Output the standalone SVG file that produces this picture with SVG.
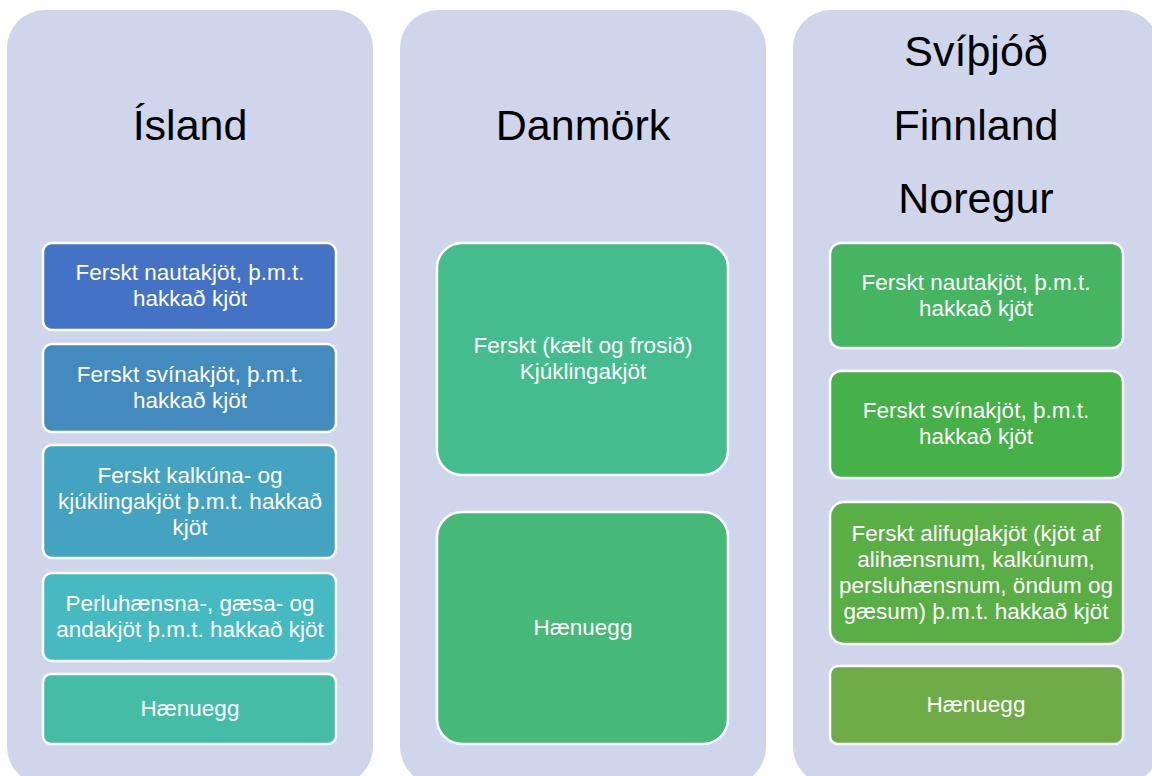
<svg xmlns="http://www.w3.org/2000/svg" width="1152" height="776" viewBox="0 0 1152 776">
<style>
.col{fill:#CFD5EA}
.box{stroke:#FFFFFF;stroke-width:2.5}
.t{font-family:"Liberation Sans",Arial,sans-serif;font-size:22.5px;fill:#FFFFFF;text-anchor:middle}
.h{font-family:"Liberation Sans",Arial,sans-serif;font-size:43px;fill:#000000;text-anchor:middle}
</style>
<rect width="1152" height="776" fill="#FFFFFF"/>
<g id="col-island">
<rect class="col" x="7" y="10" width="366" height="775" rx="38"/>
<text class="h" x="190" y="140">Ísland</text>
</g>
<g id="col-danmork">
<rect class="col" x="400" y="10" width="366" height="775" rx="38"/>
<text class="h" x="583" y="140">Danmörk</text>
</g>
<g id="col-nordic">
<rect class="col" x="793" y="10" width="366" height="775" rx="38"/>
<text class="h" x="976" y="66">Svíþjóð</text>
<text class="h" x="976" y="140">Finnland</text>
<text class="h" x="976" y="213">Noregur</text>
</g>
<g id="is-1"><rect class="box" x="43" y="243" width="293" height="87" rx="9" fill="#4472C4"/>
<text class="t" x="190" y="280">Ferskt nautakjöt, þ.m.t.</text><text class="t" x="190" y="306">hakkað kjöt</text></g>
<g id="is-2"><rect class="box" x="43" y="344" width="293" height="88" rx="9" fill="#438ABF"/>
<text class="t" x="190" y="382">Ferskt svínakjöt, þ.m.t.</text><text class="t" x="190" y="408">hakkað kjöt</text></g>
<g id="is-3"><rect class="box" x="43" y="445" width="293" height="113" rx="9" fill="#44A3C0"/>
<text class="t" x="190" y="483">Ferskt kalkúna- og</text><text class="t" x="190" y="509">kjúklingakjöt þ.m.t. hakkað</text><text class="t" x="190" y="535">kjöt</text></g>
<g id="is-4"><rect class="box" x="43" y="573" width="293" height="88" rx="9" fill="#45BAC0"/>
<text class="t" x="190" y="611">Perluhænsna-, gæsa- og</text><text class="t" x="190" y="637">andakjöt þ.m.t. hakkað kjöt</text></g>
<g id="is-5"><rect class="box" x="43" y="674" width="293" height="70" rx="8" fill="#45BDA6"/>
<text class="t" x="190" y="716">Hænuegg</text></g>
<g id="dk-1"><rect class="box" x="437" y="243" width="291" height="232" rx="25" fill="#44BC8E"/>
<text class="t" x="583" y="353">Ferskt (kælt og frosið)</text><text class="t" x="583" y="379">Kjúklingakjöt</text></g>
<g id="dk-2"><rect class="box" x="437" y="512" width="291" height="232" rx="25" fill="#46B978"/>
<text class="t" x="583" y="635">Hænuegg</text></g>
<g id="no-1"><rect class="box" x="830" y="243" width="293" height="105" rx="11" fill="#45B562"/>
<text class="t" x="976" y="290">Ferskt nautakjöt, þ.m.t.</text><text class="t" x="976" y="316">hakkað kjöt</text></g>
<g id="no-2"><rect class="box" x="830" y="371" width="293" height="107" rx="11" fill="#46B148"/>
<text class="t" x="976" y="418">Ferskt svínakjöt, þ.m.t.</text><text class="t" x="976" y="444">hakkað kjöt</text></g>
<g id="no-3"><rect class="box" x="830" y="502" width="293" height="142" rx="14" fill="#5AAE46"/>
<text class="t" x="976" y="541">Ferskt alifuglakjöt (kjöt af</text><text class="t" x="976" y="567">alihænsnum, kalkúnum,</text><text class="t" x="976" y="593">persluhænsnum, öndum og</text><text class="t" x="976" y="619">gæsum) þ.m.t. hakkað kjöt</text></g>
<g id="no-4"><rect class="box" x="830" y="666" width="293" height="78" rx="8" fill="#6FAC47"/>
<text class="t" x="976" y="712">Hænuegg</text></g>
<g id="connectors"></g>
</svg>
